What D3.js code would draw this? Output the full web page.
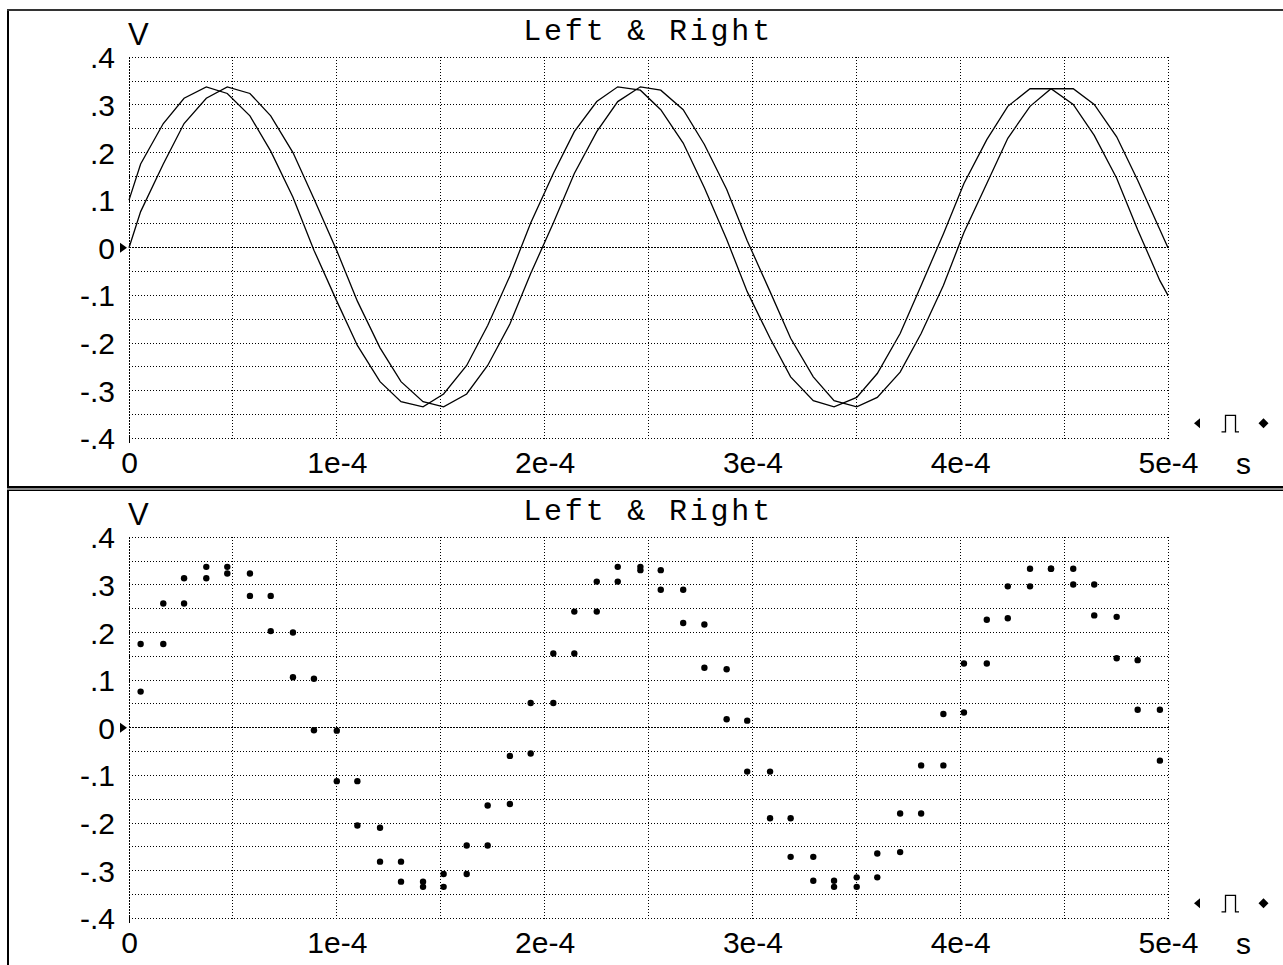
<!DOCTYPE html>
<html><head><meta charset="utf-8">
<script src="https://cdn.jsdelivr.net/npm/d3@7"></script>
<style>body{margin:0;background:#fff;} svg{display:block;}</style>
</head><body>
<svg id="c" width="1283" height="965"></svg>
<script>
// ---- data (time in microseconds, values in volts) ----
const sampleTimeUs = [5.6, 16.5, 26.5, 37.2, 47.3, 58.2, 68.2, 78.9, 89.0, 100.0, 109.9, 120.8, 130.9, 141.5, 151.4, 162.5, 172.6, 183.3, 193.3, 204.2, 214.3, 225.1, 235.2, 246.1, 255.9, 266.7, 276.9, 287.6, 297.5, 308.5, 318.4, 329.3, 339.3, 350.2, 360.1, 371.1, 381.2, 391.9, 401.8, 412.8, 422.9, 433.6, 443.7, 454.4, 464.5, 475.3, 485.4, 496.1];
const leftValues = [0.176, 0.261, 0.314, 0.338, 0.324, 0.277, 0.203, 0.106, -0.005, -0.112, -0.205, -0.281, -0.323, -0.334, -0.307, -0.247, -0.163, -0.059, 0.052, 0.156, 0.244, 0.307, 0.338, 0.331, 0.290, 0.220, 0.126, 0.018, -0.092, -0.190, -0.271, -0.321, -0.334, -0.314, -0.264, -0.180, -0.079, 0.029, 0.135, 0.227, 0.297, 0.334, 0.334, 0.301, 0.236, 0.146, 0.038, -0.069];
const rightValues = [0.076, 0.176, 0.261, 0.314, 0.338, 0.324, 0.277, 0.200, 0.103, -0.006, -0.112, -0.210, -0.281, -0.323, -0.334, -0.307, -0.247, -0.160, -0.054, 0.052, 0.156, 0.244, 0.307, 0.338, 0.331, 0.290, 0.217, 0.123, 0.015, -0.092, -0.190, -0.271, -0.321, -0.334, -0.314, -0.261, -0.180, -0.079, 0.032, 0.135, 0.230, 0.297, 0.334, 0.334, 0.301, 0.233, 0.142, 0.038];
const edgeTimesUs = [0, 500];
const leftEdgeValues = [0.10, -0.10];
const rightEdgeValues = [0.00, 0.00];
const xTickValues = [0, 100, 200, 300, 400, 500];
const xTickLabels = ["0", "1e-4", "2e-4", "3e-4", "4e-4", "5e-4"];
const yTickValues = [0.4, 0.3, 0.2, 0.1, 0, -0.1, -0.2, -0.3, -0.4];
const yTickLabels = [".4", ".3", ".2", ".1", "0", "-.1", "-.2", "-.3", "-.4"];
const xGridValues = [0, 50, 100, 150, 200, 250, 300, 350, 400, 450, 500];
const yGridValues = [0.4, 0.35, 0.3, 0.25, 0.2, 0.15, 0.1, 0.05, 0, -0.05, -0.1, -0.15, -0.2, -0.25, -0.3, -0.35, -0.4];
const titleText = "Left & Right";
const yUnit = "V", xUnit = "s";

// ---- drawing ----
const svg = d3.select("#c");
const x = d3.scaleLinear().domain([0, 500]).range([129, 1168]);
const y = d3.scaleLinear().domain([-0.4, 0.4]).range([438.3, 57.3]);
const sansFont = "'Liberation Sans', Arial, sans-serif";
const monoFont = "'Liberation Mono', 'Courier New', monospace";

function crisp(v) { return Math.round(v - 0.5) + 0.5; }

function panel(offsetY, mode) {
  const g = svg.append("g").attr("transform", `translate(0,${offsetY})`);
  // grid
  const grid = g.append("g").attr("stroke", "#000").attr("stroke-width", 1).attr("shape-rendering", "crispEdges");
  yGridValues.forEach(v => {
    grid.append("line")
      .attr("x1", x(0)).attr("x2", x(500) + 1)
      .attr("y1", crisp(y(v))).attr("y2", crisp(y(v)))
      .attr("stroke-dasharray", v === 0 ? "2,1" : "1,2");
  });
  xGridValues.forEach(v => {
    grid.append("line")
      .attr("x1", crisp(x(v))).attr("x2", crisp(x(v)))
      .attr("y1", y(0.4)).attr("y2", y(-0.4) + (v === 0 ? 5 : 1))
      .attr("stroke-dasharray", v === 0 ? "2,1" : "1,2");
  });
  // origin tick solid
  grid.append("line").attr("x1", crisp(x(0))).attr("x2", crisp(x(0)))
    .attr("y1", y(-0.4) - 1).attr("y2", y(-0.4) + 5);

  // axes
  const ya = g.append("g").attr("transform", `translate(${x(0)},0)`)
    .call(d3.axisLeft(y).tickValues(yTickValues).tickFormat((d, i) => yTickLabels[i]).tickSize(0).tickPadding(14));
  ya.select(".domain").remove();
  ya.selectAll("text").attr("font-family", sansFont).attr("font-size", 30).attr("fill", "#000").attr("dy", "0.35em");

  const xa = g.append("g").attr("transform", `translate(0,${y(-0.4)})`)
    .call(d3.axisBottom(x).tickValues(xTickValues).tickFormat((d, i) => xTickLabels[i]).tickSize(0).tickPadding(13));
  xa.select(".domain").remove();
  xa.selectAll("text").attr("font-family", sansFont).attr("font-size", 30).attr("fill", "#000");

  // units
  g.append("text").attr("x", 128).attr("y", 45).attr("font-family", sansFont).attr("font-size", 31).text(yUnit);
  g.append("text").attr("x", 1236).attr("y", 473.5).attr("font-family", sansFont).attr("font-size", 30).text(xUnit);

  // title
  g.append("text").attr("x", 646.7).attr("y", 39.5).attr("text-anchor", "middle")
    .attr("font-family", monoFont).attr("font-size", 30).attr("textLength", 247).attr("lengthAdjust", "spacing")
    .text(titleText);

  // zero marker triangle
  g.append("path").attr("d", `M${x(0) - 9},${y(0) - 5}L${x(0) - 2},${y(0)}L${x(0) - 9},${y(0) + 5}Z`).attr("fill", "#000");

  // right-side icons
  const iy = 423.3;
  g.append("path").attr("d", `M1200,${iy - 5}L1194,${iy}L1200,${iy + 5}Z`).attr("fill", "#000");
  g.append("path").attr("d", `M1221.5,${iy + 8.5}H1225.5V${iy - 8}H1235.5V${iy + 8.5}H1239`)
    .attr("fill", "none").attr("stroke", "#000").attr("stroke-width", 1.3);
  g.append("path").attr("d", `M1263.5,${iy - 5}L1268.5,${iy}L1263.5,${iy + 5}L1258.5,${iy}Z`).attr("fill", "#000");

  if (mode === "line") {
    const line = d3.line().x(d => x(d[0])).y(d => y(d[1]));
    const leftPts = [[edgeTimesUs[0], leftEdgeValues[0]]]
      .concat(sampleTimeUs.map((t, i) => [t, leftValues[i]]))
      .concat([[edgeTimesUs[1], leftEdgeValues[1]]]);
    const rightPts = [[edgeTimesUs[0], rightEdgeValues[0]]]
      .concat(sampleTimeUs.map((t, i) => [t, rightValues[i]]))
      .concat([[edgeTimesUs[1], rightEdgeValues[1]]]);
    [leftPts, rightPts].forEach(p => {
      g.append("path").attr("d", line(p)).attr("fill", "none").attr("stroke", "#000").attr("stroke-width", 1.3);
    });
  } else {
    [leftValues, rightValues].forEach(vals => {
      g.append("g").selectAll("circle").data(vals).join("circle")
        .attr("cx", (d, i) => x(sampleTimeUs[i])).attr("cy", d => y(d)).attr("r", 3.2).attr("fill", "#000");
    });
  }
}

panel(0, "line");
panel(480, "dot");

// frame
const frame = svg.append("g").attr("shape-rendering", "crispEdges");
frame.append("rect").attr("x", 7).attr("y", 9).attr("width", 2).attr("height", 956).attr("fill", "#000");
frame.append("rect").attr("x", 7).attr("y", 9).attr("width", 1276).attr("height", 2).attr("fill", "#333");
frame.append("rect").attr("x", 7).attr("y", 486).attr("width", 1276).attr("height", 5).attr("fill", "#888");
frame.append("rect").attr("x", 7).attr("y", 486).attr("width", 1276).attr("height", 1.5).attr("fill", "#000");
frame.append("rect").attr("x", 7).attr("y", 489.5).attr("width", 1276).attr("height", 1.5).attr("fill", "#000");
</script>
</body></html>
